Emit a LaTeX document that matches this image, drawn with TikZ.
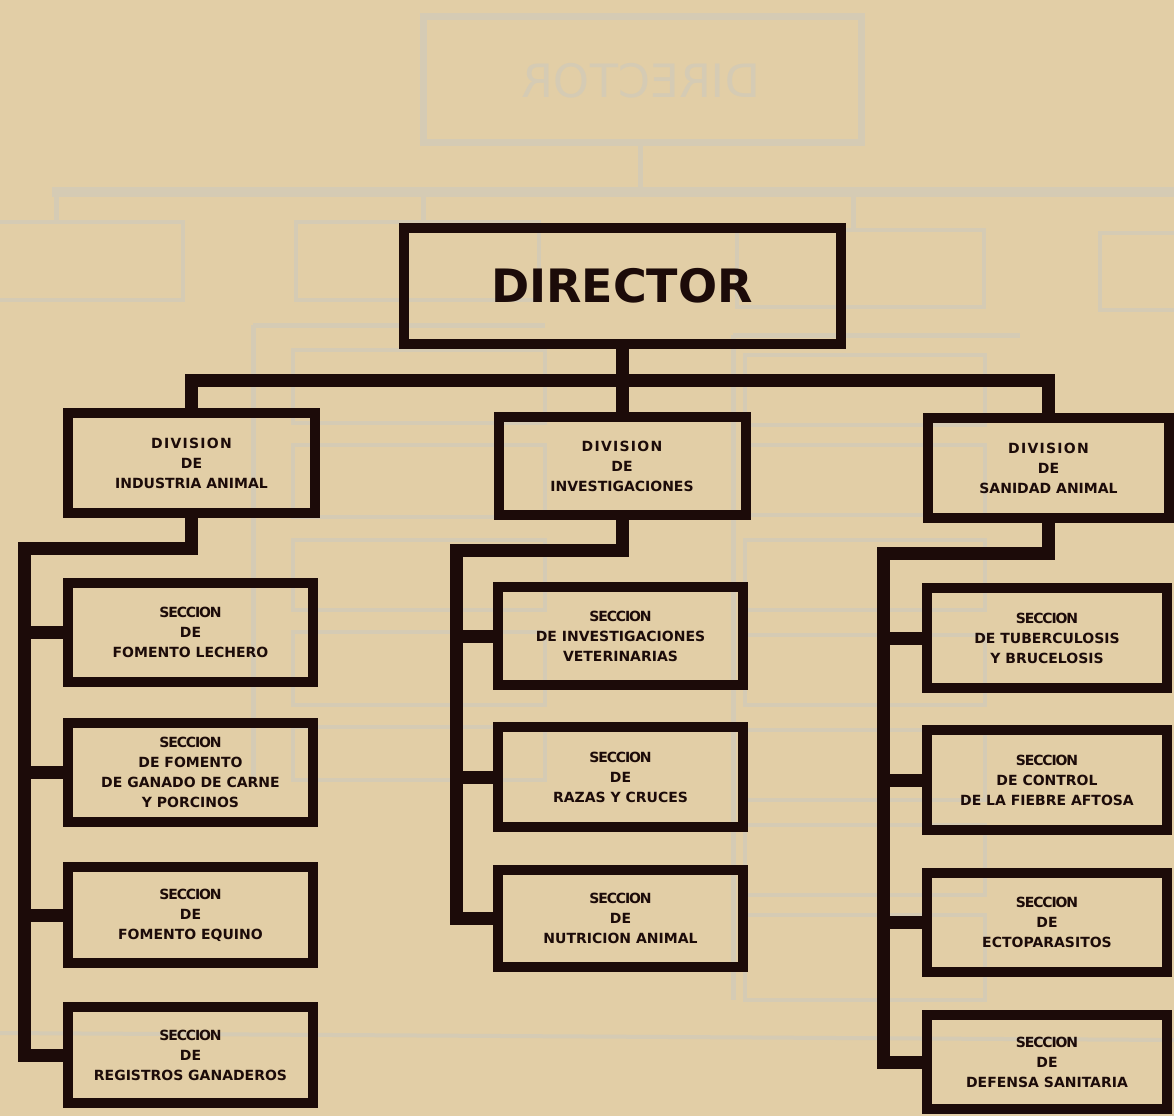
\documentclass[tikz,border=0pt]{standalone}
\usepackage{fontspec}
\setmainfont{DejaVu Sans}
\definecolor{paper}{RGB}{226,206,166}
\definecolor{ink}{RGB}{28,11,9}
\definecolor{ghost}{RGB}{213,203,180}
\newcommand{\labfont}{\bfseries\fontsize{14}{20}\selectfont}
\newcommand{\divw}[1]{{\addfontfeature{LetterSpace=9}#1}}
\newcommand{\secw}[1]{{\addfontfeature{LetterSpace=-8}#1}}
\tikzset{
  box/.style={draw=ink, line width=10pt, inner sep=0pt, align=center, font=\labfont, text=ink},
  link/.style={draw=ink, line width=13pt},
  ghostline/.style={draw=ghost, line width=5pt},
  ghostbox/.style={draw=ghost, line width=4pt}
}
\begin{document}
\begin{tikzpicture}[x=1pt,y=-1pt]
\useasboundingbox (0,0) rectangle (1174,1116);
\fill[paper] (0,0) rectangle (1174,1116);
% faint show-through of the reverse side
\draw[ghostbox, line width=7pt] (423,17) rectangle (861,142);
\node[text=ghost, font=\fontsize{46}{46}\selectfont] (gdir) at (641,81) {\reflectbox{DIRECTOR}};
\draw[ghostline] (640,142) -- (640,192);
\draw[ghostline, line width=10pt] (52,192) -- (1174,192);
\draw[ghostline] (56,192) -- (56,224) (423,192) -- (423,224) (853,192) -- (853,232);
\draw[ghostbox] (-5,222) rectangle (183,300);
\draw[ghostbox] (296,222) rectangle (539,300);
\draw[ghostbox] (737,230) rectangle (984,307);
\draw[ghostbox] (1100,233) rectangle (1180,310);
\draw[ghostline] (253,325) -- (253,780);
\draw[ghostline] (253,325) -- (545,325);
\foreach \a/\b in {350/423,445/517,540/610,632/705,727/780}
  \draw[ghostbox] (293,\a) rectangle (545,\b);
\draw[ghostline] (733,335) -- (733,1000);
\draw[ghostline] (733,335) -- (1020,335);
\foreach \a/\b in {355/425,445/515,540/610,635/705,730/800,825/895,915/1000}
  \draw[ghostbox] (745,\a) rectangle (985,\b);
\draw[ghostline, line width=4pt] (0,1033) -- (1174,1040);

% main chart
\node[box, minimum width=437pt, minimum height=116pt, font=\bfseries\fontsize{46}{46}\selectfont] (dir) at (622,286) {DIRECTOR};

\node[box, minimum width=247pt, minimum height=100pt] (div1) at (191.5,463) {\divw{DIVISION}\\DE\\INDUSTRIA ANIMAL};
\node[box, minimum width=247pt, minimum height=98pt] (div2) at (622,466) {\divw{DIVISION}\\DE\\INVESTIGACIONES};
\node[box, minimum width=241pt, minimum height=100pt] (div3) at (1048.5,468) {\divw{DIVISION}\\DE\\SANIDAD ANIMAL};

\node[box, minimum width=245pt, minimum height=99pt] (l1) at (190.5,632.5) {\secw{SECCION}\\DE\\FOMENTO LECHERO};
\node[box, minimum width=245pt, minimum height=99pt] (l2) at (190.5,772.5) {\secw{SECCION}\\DE FOMENTO\\DE GANADO DE CARNE\\Y PORCINOS};
\node[box, minimum width=245pt, minimum height=96pt] (l3) at (190.5,915) {\secw{SECCION}\\DE\\FOMENTO EQUINO};
\node[box, minimum width=245pt, minimum height=96pt] (l4) at (190.5,1055) {\secw{SECCION}\\DE\\REGISTROS GANADEROS};

\node[box, minimum width=245pt, minimum height=98pt] (m1) at (620.5,636) {\secw{SECCION}\\DE INVESTIGACIONES\\VETERINARIAS};
\node[box, minimum width=245pt, minimum height=100pt] (m2) at (620.5,777) {\secw{SECCION}\\DE\\RAZAS Y CRUCES};
\node[box, minimum width=245pt, minimum height=97pt] (m3) at (620.5,918.5) {\secw{SECCION}\\DE\\NUTRICION ANIMAL};

\node[box, minimum width=240pt, minimum height=100pt] (r1) at (1047,638) {\secw{SECCION}\\DE TUBERCULOSIS\\Y BRUCELOSIS};
\node[box, minimum width=240pt, minimum height=100pt] (r2) at (1047,780) {\secw{SECCION}\\DE CONTROL\\DE LA FIEBRE AFTOSA};
\node[box, minimum width=240pt, minimum height=99pt] (r3) at (1047,922.5) {\secw{SECCION}\\DE\\ECTOPARASITOS};
\node[box, minimum width=240pt, minimum height=94pt] (r4) at (1047,1062) {\secw{SECCION}\\DE\\DEFENSA SANITARIA};

% connectors
\coordinate (bus) at (622,380);
\draw[link] (dir.south) -- (div2.north);
\draw[link] (div1.north) |- (bus) -| (div3.north);

\coordinate (tl) at (24,548);
\draw[link] (div1.south) |- (tl) |- (l4.west);
\foreach \s in {l1,l2,l3} \draw[link] (tl |- \s.west) -- (\s.west);

\coordinate (tm) at (456,550);
\draw[link] (div2.south) |- (tm) |- (m3.west);
\foreach \s in {m1,m2} \draw[link] (tm |- \s.west) -- (\s.west);

\coordinate (tr) at (883,553);
\draw[link] (div3.south) |- (tr) |- (r4.west);
\foreach \s in {r1,r2,r3} \draw[link] (tr |- \s.west) -- (\s.west);
\end{tikzpicture}
\end{document}
